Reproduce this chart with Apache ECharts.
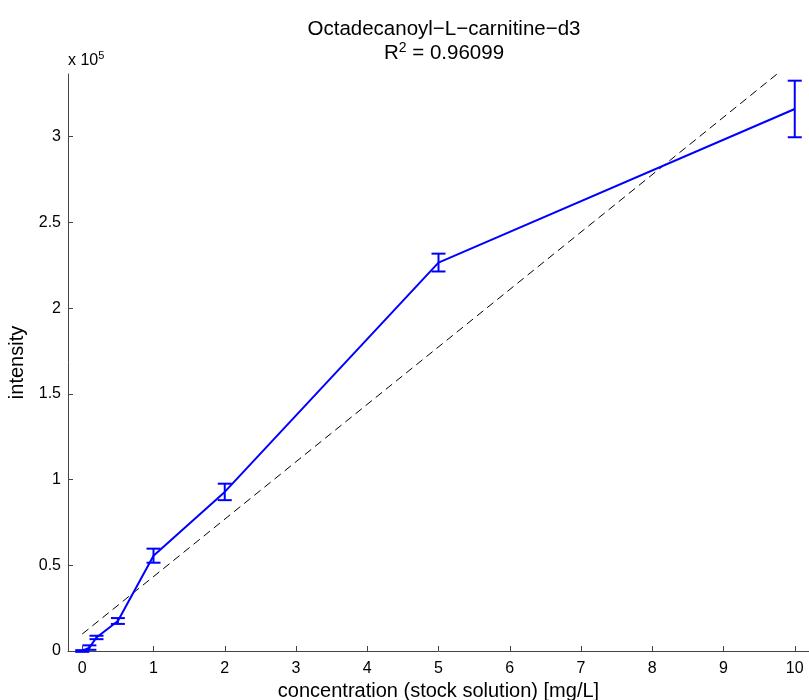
<!DOCTYPE html>
<html>
<head>
<meta charset="utf-8">
<script src="https://cdn.jsdelivr.net/npm/echarts@6/dist/echarts.min.js"></script>
<style>
  html, body { margin: 0; padding: 0; background: #fff; }
  #chart { width: 809px; height: 700px; }
</style>
</head>
<body>
<div id="chart"></div>
<script>
// calibration points
const conc = [0, 0.1, 0.2, 0.5, 1, 2, 5, 10];
const intensity = [0, 2000, 7900, 17500, 55600, 92800, 226600, 316200];
const intensityErr = [500, 1300, 1000, 1700, 4100, 4800, 5200, 16500];

// linear fit (dashed), end points
const fitX = [0, 10];
const fitY = [9900, 344900];

const xTicks = [0, 1, 2, 3, 4, 5, 6, 7, 8, 9, 10];
const yTicks = [0, 50000, 100000, 150000, 200000, 250000, 300000];

const FONT = 'Liberation Sans, Arial, Helvetica, sans-serif';

const chart = echarts.init(document.getElementById('chart'));

const lineData = conc.map((c, i) => [c, intensity[i]]);
const errData = conc.map((c, i) => [c, intensity[i] - intensityErr[i], intensity[i] + intensityErr[i]]);
const fitData = fitX.map((x, i) => [x, fitY[i]]);

function renderErr(params, api) {
  const lo = api.coord([api.value(0), api.value(1)]);
  const hi = api.coord([api.value(0), api.value(2)]);
  const w = 7;
  const style = { stroke: '#0000ff', lineWidth: 2 };
  return {
    type: 'group',
    children: [
      { type: 'line', shape: { x1: lo[0], y1: lo[1], x2: hi[0], y2: hi[1] }, style },
      { type: 'line', shape: { x1: lo[0] - w, y1: lo[1], x2: lo[0] + w, y2: lo[1] }, style },
      { type: 'line', shape: { x1: hi[0] - w, y1: hi[1], x2: hi[0] + w, y2: hi[1] }, style }
    ]
  };
}

chart.setOption({
  backgroundColor: '#fff',
  animation: false,
  title: {
    text: 'Octadecanoyl−L−carnitine−d3\nR{sup|2} = 0.96099',
    left: 439,
    top: 12,
    textAlign: 'center',
    textStyle: {
      fontFamily: FONT, fontSize: 20.5, fontWeight: 'normal', color: '#000', lineHeight: 24,
      rich: {
        sup: { fontFamily: FONT, fontSize: 14, verticalAlign: 'top', padding: [0, 0, 12, 0], color: '#000' }
      }
    }
  },
  graphic: [{
    type: 'text',
    left: 68,
    top: 50,
    style: {
      text: 'x 10{sup|5}',
      fontFamily: FONT, fontSize: 16, fill: '#000',
      rich: { sup: { fontFamily: FONT, fontSize: 11, padding: [0, 0, 10, 0] } }
    }
  }],
  grid: { left: 68, right: 0, top: 74, bottom: 49, containLabel: false, outerBoundsMode: 'none' },
  xAxis: {
    type: 'value',
    min: -0.2,
    max: 10.2,
    name: 'concentration (stock solution) [mg/L]',
    nameLocation: 'middle',
    nameGap: 28,
    nameTextStyle: { fontFamily: FONT, fontSize: 20, color: '#000' },
    axisLine: { show: true, onZero: false, lineStyle: { color: '#444', width: 1 } },
    axisTick: { show: true, inside: true, length: 5, customValues: xTicks, lineStyle: { color: '#444' } },
    axisLabel: { customValues: xTicks, fontFamily: FONT, fontSize: 16, color: '#000', margin: 10 },
    splitLine: { show: false }
  },
  yAxis: {
    type: 'value',
    min: 0,
    max: 336600,
    name: 'intensity',
    nameLocation: 'middle',
    nameGap: 34,
    nameTextStyle: { fontFamily: FONT, fontSize: 20, color: '#000' },
    axisLine: { show: true, onZero: false, lineStyle: { color: '#444', width: 1 } },
    axisTick: { show: true, inside: true, length: 5, customValues: yTicks, lineStyle: { color: '#444' } },
    axisLabel: {
      customValues: yTicks, fontFamily: FONT, fontSize: 16, color: '#000', margin: 7,
      formatter: v => String(+(v / 100000).toFixed(1))
    },
    splitLine: { show: false }
  },
  series: [
    {
      type: 'line',
      data: fitData,
      symbol: 'none',
      lineStyle: { color: '#000', width: 1, type: [8, 5] },
      silent: true,
      z: 1
    },
    {
      type: 'line',
      data: lineData,
      symbol: 'none',
      lineStyle: { color: '#0000ff', width: 2 },
      z: 2
    },
    {
      type: 'custom',
      data: errData,
      renderItem: renderErr,
      encode: { x: 0, y: [1, 2] },
      z: 3
    }
  ]
});
</script>
</body>
</html>
